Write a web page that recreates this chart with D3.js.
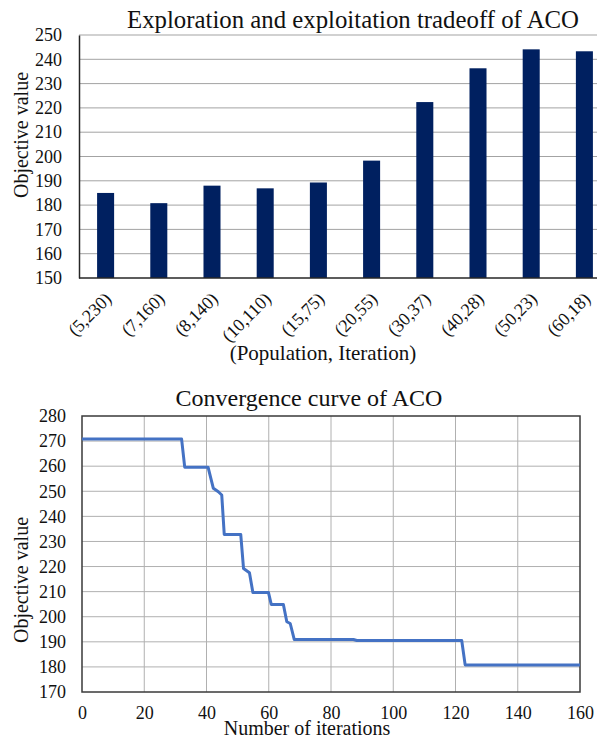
<!DOCTYPE html>
<html>
<head>
<meta charset="utf-8">
<script src="https://cdn.jsdelivr.net/npm/d3@7"></script>
<style>
  html, body { margin: 0; padding: 0; background: #fff; }
  svg text { font-family: 'Liberation Serif', 'Times New Roman', Tinos, 'DejaVu Serif', serif !important; }
</style>
</head>
<body>
<svg id="chart" width="603" height="740"></svg>
<script>
// Top chart: objective value for each (population, iteration) setting
const settings = ["(5,230)", "(7,160)", "(8,140)", "(10,110)", "(15,75)",
                  "(20,55)", "(30,37)", "(40,28)", "(50,23)", "(60,18)"];
const objectiveBySetting = [185, 180.8, 188, 186.9, 189.3, 198.3, 222.4, 236.3, 244.1, 243.3];
const barTicks = [150, 160, 170, 180, 190, 200, 210, 220, 230, 240, 250];

// Bottom chart: best objective value over the iterations (curve vertices)
const iterations = [0, 32, 33, 40.5, 42.2, 43.8, 44.9, 45.7, 51, 51.9, 53.8, 54.9,
                    59.9, 60.8, 64.7, 65.8, 66.9, 68.2, 87.2, 88.3, 122, 123.1, 160];
const bestValues = [270.8, 270.8, 259.6, 259.6, 251.2, 249.8, 248.5, 232.8, 232.8, 219.2, 217.5, 209.7,
                    209.7, 204.9, 204.9, 198, 197.3, 190.9, 190.9, 190.5, 190.5, 180.8, 180.8];
const convYTicks = [170, 180, 190, 200, 210, 220, 230, 240, 250, 260, 270, 280];
const convXTicks = [0, 20, 40, 60, 80, 100, 120, 140, 160];

const serif = "'Liberation Serif', 'Times New Roman', Tinos, 'DejaVu Serif', serif";
const svg = d3.select("#chart").style("font-family", serif);

// ---------- Bar chart ----------
{
  const left = 79, right = 611, top = 35, bottom = 278, gridEnd = 597;
  const x = d3.scaleBand().domain(settings).range([left, right])
    .paddingInner(0.68).paddingOuter(0.34);
  const y = d3.scaleLinear().domain([150, 250]).range([bottom, top]);
  const g = svg.append("g");

  g.append("g").selectAll("line").data(barTicks.slice(1)).join("line")
    .attr("x1", left).attr("x2", gridEnd)
    .attr("y1", d => y(d)).attr("y2", d => y(d))
    .attr("stroke", "#a3a3a3").attr("stroke-width", 1);

  g.append("g").selectAll("rect").data(settings).join("rect")
    .attr("x", d => x(d)).attr("width", x.bandwidth())
    .attr("y", (d, i) => y(objectiveBySetting[i]))
    .attr("height", (d, i) => y(150) - y(objectiveBySetting[i]))
    .attr("fill", "#002060");

  const yAxis = d3.axisLeft(y).tickValues(barTicks).tickSize(0).tickPadding(17);
  const ya = g.append("g").attr("transform", `translate(${left},0)`).call(yAxis)
    .attr("font-family", null).style("font-family", serif);
  ya.select(".domain").attr("stroke", "#262626").attr("stroke-width", 1.5);
  ya.selectAll("text").attr("font-size", 18).attr("fill", "#111");

  const xAxis = d3.axisBottom(x).tickSize(0).tickSizeOuter(0);
  const xa = g.append("g").attr("transform", `translate(0,${bottom})`).call(xAxis)
    .attr("font-family", null).style("font-family", serif);
  xa.select(".domain").attr("d", `M${left},0H${gridEnd}`)
    .attr("stroke", "#262626").attr("stroke-width", 1.5);
  xa.selectAll("text")
    .attr("font-size", 18).attr("fill", "#111")
    .attr("text-anchor", "end")
    .attr("dy", null).attr("y", 0)
    .attr("transform", "translate(7,22) rotate(-45)");

  g.append("text").attr("x", 353).attr("y", 28).attr("text-anchor", "middle")
    .attr("font-size", 24.8).attr("fill", "#111")
    .text("Exploration and exploitation tradeoff of ACO");
  g.append("text").attr("x", 323).attr("y", 360).attr("text-anchor", "middle")
    .attr("font-size", 21).attr("fill", "#111")
    .text("(Population, Iteration)");
  g.append("text").attr("transform", "translate(28,135) rotate(-90)")
    .attr("text-anchor", "middle").attr("font-size", 20).attr("fill", "#111")
    .text("Objective value");
}

// ---------- Convergence curve ----------
{
  const left = 82, right = 580, top = 416, bottom = 692;
  const x = d3.scaleLinear().domain([0, 160]).range([left, right]);
  const y = d3.scaleLinear().domain([170, 280]).range([bottom, top]);
  const g = svg.append("g");

  g.append("g").selectAll("line").data(convYTicks.slice(1, -1)).join("line")
    .attr("x1", left).attr("x2", right)
    .attr("y1", d => y(d)).attr("y2", d => y(d))
    .attr("stroke", "#b0b0b0").attr("stroke-width", 1);
  g.append("g").selectAll("line").data(convXTicks.slice(1, -1)).join("line")
    .attr("y1", top).attr("y2", bottom)
    .attr("x1", d => x(d)).attr("x2", d => x(d))
    .attr("stroke", "#b0b0b0").attr("stroke-width", 1);

  g.append("rect").attr("x", left).attr("y", top)
    .attr("width", right - left).attr("height", bottom - top)
    .attr("fill", "none").attr("stroke", "#3a3a3a").attr("stroke-width", 1.5);

  const pts = iterations.map((it, i) => [it, bestValues[i]]);
  const line = d3.line().x(d => x(d[0])).y(d => y(d[1]));
  g.append("path").datum(pts).attr("d", line)
    .attr("fill", "none").attr("stroke", "#4472c4").attr("stroke-width", 3)
    .attr("stroke-linejoin", "round");

  const ya = g.append("g").attr("transform", `translate(${left},0)`)
    .call(d3.axisLeft(y).tickValues(convYTicks).tickSize(0).tickPadding(16))
    .attr("font-family", null).style("font-family", serif);
  ya.select(".domain").remove();
  ya.selectAll("text").attr("font-size", 18).attr("fill", "#111");

  const xa = g.append("g").attr("transform", `translate(0,${bottom})`)
    .call(d3.axisBottom(x).tickValues(convXTicks).tickSize(0).tickPadding(14))
    .attr("font-family", null).style("font-family", serif);
  xa.select(".domain").remove();
  xa.selectAll("text").attr("font-size", 18).attr("fill", "#111");

  g.append("text").attr("x", 309).attr("y", 406).attr("text-anchor", "middle")
    .attr("font-size", 24).attr("fill", "#111")
    .text("Convergence curve of ACO");
  g.append("text").attr("x", 307).attr("y", 735).attr("text-anchor", "middle")
    .attr("font-size", 20).attr("fill", "#111")
    .text("Number of iterations");
  g.append("text").attr("transform", "translate(28,580) rotate(-90)")
    .attr("text-anchor", "middle").attr("font-size", 20).attr("fill", "#111")
    .text("Objective value");
}
</script>
</body>
</html>
